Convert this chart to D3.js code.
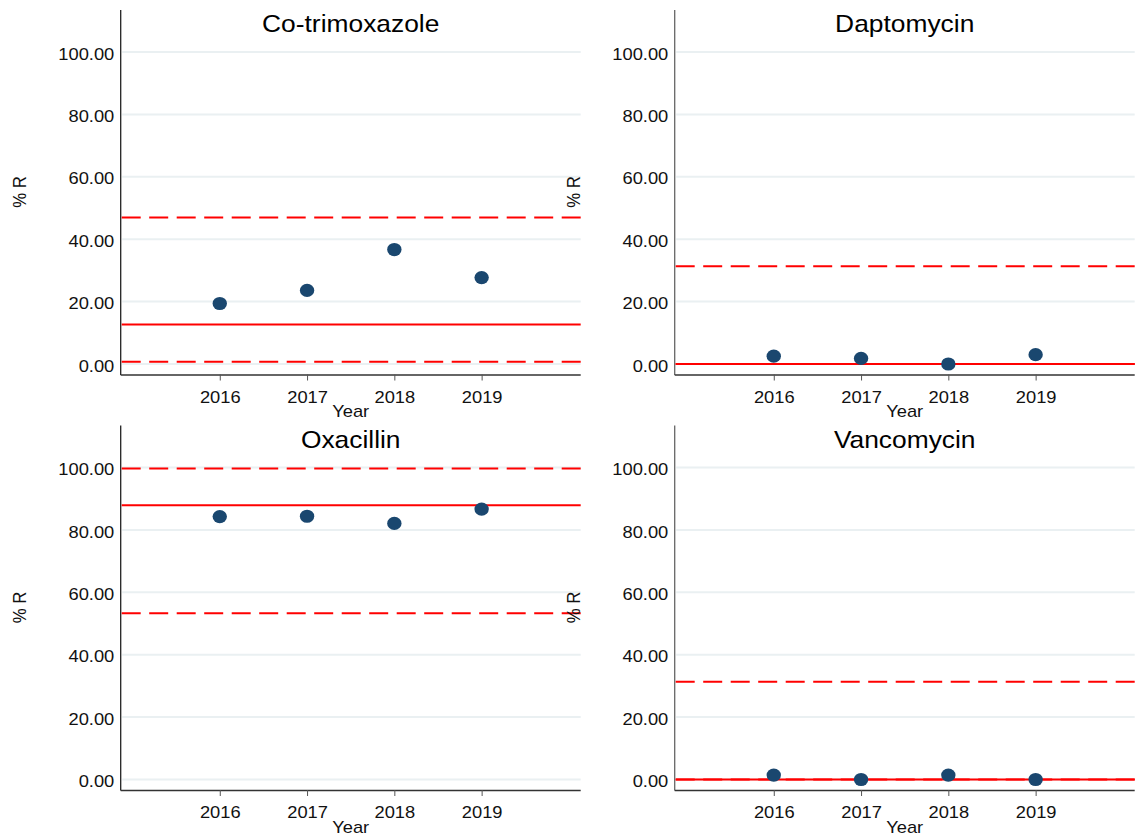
<!DOCTYPE html>
<html>
<head>
<meta charset="utf-8">
<script src="https://cdn.jsdelivr.net/npm/d3@7"></script>
<style>
  html, body { margin: 0; padding: 0; background: #fff; }
  svg { display: block; font-family: "Liberation Sans", Arial, sans-serif; }
</style>
</head>
<body>
<svg id="chart" width="1137" height="838"></svg>
<script>
// ---- Data ----
const years = [2016, 2017, 2018, 2019];
const antibiotics = ["Co-trimoxazole", "Daptomycin", "Oxacillin", "Vancomycin"];
const pctCotrimoxazole = [19.4, 23.6, 36.7, 27.7];
const pctDaptomycin = [2.5, 1.8, 0.0, 3.0];
const pctOxacillin = [84.3, 84.4, 82.1, 86.7];
const pctVancomycin = [1.4, 0.0, 1.4, 0.0];
const centerLine = [12.7, 0.0, 87.9, 0.0];
const upperLimit = [47.0, 31.3, 99.7, 31.3];
const lowerLimit = [0.75, 0.0, 53.3, 0.0];
const yTicks = [0, 20, 40, 60, 80, 100];
const xLabel = "Year";
const yLabel = "% R";

const seriesValues = [pctCotrimoxazole, pctDaptomycin, pctOxacillin, pctVancomycin];

// ---- Layout ----
const svg = d3.select("#chart");
const SX = 1.09; // horizontal stretch of glyphs in the reference
const panelW = 460, colStep = 554, rowStep = 415.5;
const baseLeft = 120.7, baseTop = 10, baseBottom = 374.5;
const FONT = "Liberation Sans, Arial, sans-serif";

function stretchedText(g, x, y, str, size, anchor, rotate) {
  const t = g.append("text")
    .attr("transform", `translate(${x},${y}) scale(${SX},1)` + (rotate ? ` rotate(${rotate})` : ""))
    .attr("text-anchor", anchor).attr("font-size", size).attr("fill", "#111")
    .attr("font-family", FONT).text(str);
  return t;
}

antibiotics.forEach((name, i) => {
  const col = i % 2, row = Math.floor(i / 2);
  const left = baseLeft + col * colStep;
  const right = left + panelW;
  const top = baseTop + row * rowStep;
  const bottom = baseBottom + row * rowStep;

  const x = d3.scaleLinear().domain([2014.865, 2020.135]).range([left, right]);
  const y = d3.scaleLinear().domain([-3.37, 113.5]).range([bottom, top]);

  const g = svg.append("g");

  // gridlines
  g.selectAll("line.grid").data(yTicks).enter().append("line")
    .attr("class", "grid")
    .attr("x1", left + 1.5).attr("x2", right)
    .attr("y1", d => y(d)).attr("y2", d => y(d))
    .attr("stroke", "#eaf0f2").attr("stroke-width", 2);

  // y axis (labels only, no ticks)
  const yAxis = d3.axisLeft(y).tickValues(yTicks).tickFormat(d3.format(".2f"))
    .tickSize(0).tickPadding(5.9);
  const yg = g.append("g").attr("transform", `translate(${left},0)`).call(yAxis);
  yg.select(".domain").remove();
  yg.selectAll("text").attr("font-size", 16.8).attr("fill", "#111")
    .attr("font-family", FONT).attr("dy", "0.42em")
    .attr("transform", `scale(${SX},1)`);
  g.append("line").attr("x1", left).attr("x2", left).attr("y1", top).attr("y2", bottom + 0.5)
    .attr("stroke", col === 0 ? "#222" : "#666").attr("stroke-width", 1.3);

  // x axis
  const xAxis = d3.axisBottom(x).tickValues(years).tickFormat(d3.format("d"))
    .tickSize(6).tickPadding(10.3);
  const xg = g.append("g").attr("transform", `translate(0,${bottom})`).call(xAxis);
  xg.select(".domain").attr("stroke", "#333").attr("stroke-width", 1.3)
    .attr("d", `M${left},0.5H${right}`);
  xg.selectAll(".tick line").attr("stroke", "#555").attr("stroke-width", 1);
  xg.selectAll("text").attr("font-size", 16.8).attr("fill", "#111")
    .attr("font-family", FONT)
    .attr("transform", `scale(${SX},1)`);

  // control lines
  const limits = [
    { v: lowerLimit[i], dash: "19,8.5" },
    { v: upperLimit[i], dash: "19,8.5" },
    { v: centerLine[i], dash: null }
  ];
  limits.forEach(l => {
    const ln = g.append("line")
      .attr("x1", left + 1).attr("x2", right)
      .attr("y1", y(l.v)).attr("y2", y(l.v))
      .attr("stroke", "#ff0000").attr("stroke-width", 2);
    if (l.dash) ln.attr("stroke-dasharray", l.dash);
  });

  // points
  g.selectAll("ellipse").data(years.map((yr, k) => ({ yr, v: seriesValues[i][k] })))
    .enter().append("ellipse")
    .attr("cx", d => x(d.yr)).attr("cy", d => y(d.v))
    .attr("rx", 6.6 * SX).attr("ry", 6.6)
    .attr("fill", "#1a476f");

  // title
  stretchedText(g, (left + right) / 2, top + 22.4, name, 24.2, "middle").attr("fill", "#000");

  // x label
  stretchedText(g, (left + right) / 2, bottom + 42.8, xLabel, 16.8, "middle");

  // y label
  stretchedText(g, left - 94.5, top + 182, yLabel, 16.8, "middle", -90);
});
</script>
</body>
</html>
